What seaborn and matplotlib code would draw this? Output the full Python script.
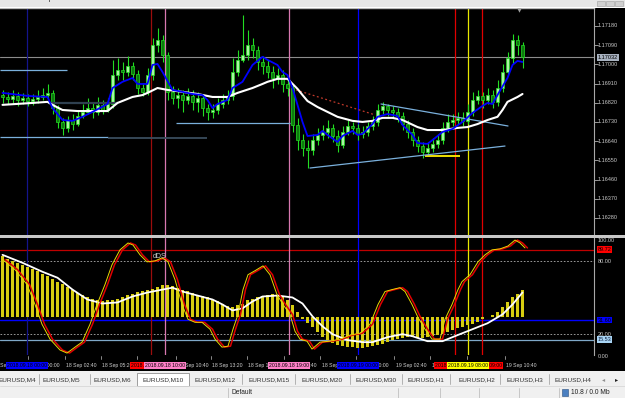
import matplotlib
matplotlib.use("Agg")
import matplotlib.pyplot as plt
import matplotlib.transforms as mtrans
from matplotlib.patches import Rectangle
import numpy as np
import seaborn as sns

# ---------------- data ----------------
first_open = 1.16856
close = [1.16847, 1.16838, 1.16852, 1.16833, 1.16842, 1.16828, 1.16838, 1.16847, 1.16856, 1.16866,
         1.16795, 1.16730, 1.16702, 1.16739, 1.16720, 1.16758, 1.16777, 1.16795, 1.16777, 1.16810,
         1.16786, 1.16814, 1.16950, 1.16974, 1.16964, 1.16992, 1.16955, 1.16889, 1.16871, 1.16950,
         1.17091, 1.17114, 1.17044, 1.16871, 1.16842, 1.16856, 1.16833, 1.16852, 1.16824, 1.16842,
         1.16795, 1.16777, 1.16786, 1.16814, 1.16833, 1.16852, 1.16964, 1.17021, 1.17044, 1.17091,
         1.17067, 1.17011, 1.16992, 1.16964, 1.16936, 1.16950, 1.16908, 1.16889, 1.16716, 1.16645,
         1.16608, 1.16598, 1.16645, 1.16669, 1.16683, 1.16702, 1.16664, 1.16622, 1.16683, 1.16711,
         1.16702, 1.16674, 1.16683, 1.16711, 1.16730, 1.16786, 1.16805, 1.16786, 1.16777, 1.16758,
         1.16720, 1.16683, 1.16645, 1.16617, 1.16589, 1.16608, 1.16627, 1.16645, 1.16702, 1.16730,
         1.16739, 1.16749, 1.16735, 1.16777, 1.16833, 1.16852, 1.16833, 1.16856, 1.16824, 1.16889,
         1.16964, 1.17030, 1.17114, 1.17091, 1.17032]
high = [1.16880, 1.16871, 1.16880, 1.16871, 1.16866, 1.16861, 1.16861, 1.16880, 1.16889, 1.16908,
        1.16880, 1.16810, 1.16749, 1.16758, 1.16767, 1.16786, 1.16814, 1.16842, 1.16824, 1.16847,
        1.16833, 1.16842, 1.17021, 1.17030, 1.17011, 1.17039, 1.17011, 1.16974, 1.16908, 1.16983,
        1.17124, 1.17171, 1.17138, 1.17058, 1.16899, 1.16889, 1.16880, 1.16889, 1.16880, 1.16871,
        1.16861, 1.16814, 1.16814, 1.16842, 1.16861, 1.16880, 1.17030, 1.17067, 1.17232, 1.17161,
        1.17124, 1.17086, 1.17039, 1.17021, 1.16992, 1.16983, 1.16974, 1.16936, 1.16908, 1.16749,
        1.16674, 1.16645, 1.16674, 1.16702, 1.16716, 1.16739, 1.16720, 1.16692, 1.16711, 1.16739,
        1.16730, 1.16720, 1.16711, 1.16730, 1.16758, 1.16814, 1.16824, 1.16814, 1.16805, 1.16795,
        1.16777, 1.16739, 1.16702, 1.16664, 1.16636, 1.16636, 1.16655, 1.16674, 1.16730, 1.16767,
        1.16767, 1.16777, 1.16777, 1.16814, 1.16871, 1.16880, 1.16871, 1.16889, 1.16880, 1.16927,
        1.17002, 1.17058, 1.17143, 1.17138, 1.17105]
low = [1.16819, 1.16814, 1.16819, 1.16805, 1.16814, 1.16805, 1.16810, 1.16819, 1.16833, 1.16842,
       1.16767, 1.16702, 1.16669, 1.16683, 1.16692, 1.16711, 1.16749, 1.16767, 1.16749, 1.16763,
       1.16767, 1.16777, 1.16795, 1.16927, 1.16927, 1.16946, 1.16927, 1.16861, 1.16852, 1.16856,
       1.16927, 1.17058, 1.17011, 1.16833, 1.16814, 1.16795, 1.16777, 1.16814, 1.16786, 1.16777,
       1.16758, 1.16739, 1.16749, 1.16767, 1.16795, 1.16814, 1.16833, 1.16946, 1.17011, 1.17021,
       1.17030, 1.16974, 1.16955, 1.16936, 1.16889, 1.16908, 1.16871, 1.16852, 1.16683, 1.16598,
       1.16570, 1.16514, 1.16575, 1.16622, 1.16645, 1.16655, 1.16636, 1.16589, 1.16608, 1.16669,
       1.16674, 1.16645, 1.16655, 1.16664, 1.16692, 1.16711, 1.16767, 1.16758, 1.16749, 1.16730,
       1.16692, 1.16655, 1.16617, 1.16589, 1.16561, 1.16580, 1.16589, 1.16608, 1.16627, 1.16683,
       1.16711, 1.16720, 1.16711, 1.16720, 1.16758, 1.16814, 1.16795, 1.16814, 1.16795, 1.16805,
       1.16871, 1.16946, 1.17002, 1.17044, 1.16983]

fast_idx = [0, 5, 9, 10, 12, 14, 16, 18, 21, 22, 24, 26, 27, 29, 30, 31, 32, 34, 36, 38,
            40, 41, 42, 43, 45, 46, 48, 50, 52, 53, 55, 56, 57, 58, 59, 60, 61, 63, 64, 65,
            67, 68, 70, 71, 72, 74, 75, 77, 79, 80, 82, 83, 85, 86, 88, 90, 92, 94, 96, 97,
            98, 99, 101, 102, 103, 104]
fast_ma = [1.16866, 1.16852, 1.16847, 1.16795, 1.16739, 1.16735, 1.16754, 1.16777, 1.16814, 1.16889,
           1.16918, 1.16936, 1.16908, 1.16908, 1.16997, 1.17002, 1.16964, 1.16880, 1.16871, 1.16861,
           1.16856, 1.16833, 1.16795, 1.16814, 1.16833, 1.16889, 1.16918, 1.16997, 1.17035, 1.17021,
           1.16997, 1.16964, 1.16950, 1.16889, 1.16810, 1.16730, 1.16664, 1.16669, 1.16688, 1.16669,
           1.16636, 1.16664, 1.16688, 1.16669, 1.16674, 1.16720, 1.16754, 1.16767, 1.16758, 1.16716,
           1.16669, 1.16631, 1.16627, 1.16645, 1.16683, 1.16697, 1.16730, 1.16772, 1.16805, 1.16819,
           1.16814, 1.16856, 1.16936, 1.16997, 1.17016, 1.17011]
slow_idx = [0, 6, 9, 10, 12, 15, 18, 21, 23, 26, 28, 29, 31, 33, 36, 39, 42, 45, 47, 50,
            52, 53, 55, 57, 59, 60, 61, 63, 65, 67, 70, 72, 74, 76, 78, 80, 83, 85, 88, 91,
            93, 95, 97, 99, 100, 101, 103, 104]
slow_ma = [1.16810, 1.16819, 1.16824, 1.16810, 1.16786, 1.16781, 1.16781, 1.16781, 1.16819, 1.16847,
           1.16856, 1.16866, 1.16889, 1.16880, 1.16871, 1.16861, 1.16847, 1.16847, 1.16866, 1.16889,
           1.16908, 1.16918, 1.16932, 1.16932, 1.16885, 1.16856, 1.16828, 1.16800, 1.16777, 1.16754,
           1.16735, 1.16730, 1.16735, 1.16749, 1.16749, 1.16739, 1.16706, 1.16692, 1.16692, 1.16702,
           1.16706, 1.16720, 1.16739, 1.16754, 1.16786, 1.16824, 1.16847, 1.16861]

hist_base = 33.9
hist = [84.6, 82.2, 80.5, 78.9, 77.3, 75.6, 74.0, 72.4, 69.9, 68.3,
        65.8, 63.4, 61.7, 59.3, 56.8, 54.4, 52.7, 51.1, 49.4, 48.6,
        47.0, 47.8, 48.6, 49.4, 51.1, 52.7, 53.5, 55.2, 56.0, 56.8,
        57.6, 59.3, 60.9, 60.9, 60.1, 58.4, 56.8, 56.0, 54.4, 52.7,
        51.9, 50.3, 48.6, 47.0, 45.3, 42.9, 42.1, 43.7, 45.3, 47.8,
        49.4, 51.1, 51.9, 52.7, 53.5, 52.7, 51.9, 48.6, 43.7, 38.0,
        32.3, 29.0, 25.7, 21.6, 17.5, 15.1, 12.6, 11.0, 10.1, 9.3,
        9.3, 8.5, 8.5, 9.3, 10.1, 11.0, 11.8, 13.4, 15.1, 15.9,
        16.7, 17.5, 17.5, 16.7, 16.7, 17.5, 18.3, 19.2, 20.0, 21.6,
        23.2, 24.9, 25.7, 27.3, 28.2, 29.8, 32.3, 33.9, 35.5, 38.0,
        42.1, 46.2, 50.3, 53.5, 56.8]
osc_idx = [0, 2.5, 4.9, 6.5, 7.9, 9.5, 11.5, 12.9, 14.5, 15.9,
           17.5, 18.9, 20.5, 21.9, 23.5, 25.1, 26.1, 27.5, 28.9, 30.5,
           31.9, 33.1, 34.5, 35.9, 37.1, 38.5, 39.9, 41.5, 42.5, 43.9,
           45.1, 46.1, 47.1, 48.1, 49.1, 50.5, 52.1, 53.5, 54.9, 56.1,
           57.5, 58.5, 59.5, 60.9, 61.9, 63.5, 65.5, 67.5, 69.5, 71.5,
           73.5, 75.1, 76.5, 77.9, 79.5, 80.5, 81.9, 83.1, 84.5, 85.9,
           87.5, 88.5, 89.9, 91.1, 91.9, 93.5, 95.1, 96.5, 97.9, 99.5,
           101.1, 102.5, 103.5, 104.5]
osc = [81.6, 73.3, 61.0, 44.5, 28.2, 15.9, 6.9, 4.4, 9.3, 13.4,
       28.2, 44.5, 61.0, 77.3, 89.6, 95.3, 93.6, 85.5, 79.7, 80.5,
       83.0, 79.7, 65.0, 44.5, 32.3, 29.8, 29.8, 24.1, 15.9, 9.3,
       10.1, 24.1, 36.3, 56.8, 69.1, 72.4, 76.4, 69.1, 52.7, 44.5,
       36.3, 22.4, 15.9, 14.2, 7.7, 13.4, 14.2, 15.9, 19.2, 20.8,
       28.2, 44.5, 55.2, 56.8, 58.4, 55.2, 44.5, 33.9, 24.1, 15.9,
       15.9, 32.3, 44.5, 56.8, 63.4, 69.1, 79.7, 85.5, 89.6, 90.4,
       92.8, 97.7, 95.3, 91.2]
sig_idx = [0, 4, 8, 11, 14, 17, 20, 23, 26, 29, 32, 34, 36, 39, 42, 44, 46, 48, 50, 52,
           55, 58, 60, 62, 64, 66, 69, 72, 74, 77, 80, 82, 85, 88, 91, 94, 97, 100, 102, 104]
sig = [85.5, 78.9, 71.5, 66.6, 56.8, 48.6, 45.3, 46.2, 51.1, 54.4, 56.8, 58.4, 55.2, 51.9, 48.6,
       44.5, 39.6, 41.3, 47.0, 51.1, 51.9, 50.3, 45.3, 34.7, 26.5, 20.0, 15.1, 13.4, 13.4, 17.5,
       20.0, 18.3, 14.2, 14.2, 19.2, 24.1, 29.0, 36.3, 44.5, 54.4]

price_ticks = [1.17180, 1.17090, 1.17000, 1.16910, 1.16820, 1.16730, 1.16640,
               1.16550, 1.16460, 1.16370, 1.16280]
current_price = 1.17032
osc_levels = [100, 80, 20, 0]
osc_marks = [89.72, 31.60, 15.53]

# objects drawn on the chart (time in bar units, price)
vline_times = [4.9, 29.7, 32.5, 57.3, 71.1, 90.5, 95.9, 93.1]
vline_labels = ["2018.09.18 00:00", "2018.09.18 09:00", "2018.09.18 10:00", "2018.09.18 19:00",
                "2018.09.19 00:00", "2018.09.19 07:00", "2018.09.19 09:00", "2018.09.19 08:00"]
level_prices = [1.16974, 1.16819, 1.16660, 1.16655, 1.16725, 1.16572]
level_from = [-0.5, 9.1, -0.5, 21.1, 34.7, 84.5]
level_to = [12.9, 23.1, 21.1, 40.9, 57.5, 91.5]
trend_times = [[61.5, 100.5], [75.7, 101.1], [58.7, 74.5]]
trend_prices = [[1.16514, 1.16617], [1.16814, 1.16711], [1.16880, 1.16763]]
time_ticks = [-2.3, 5.1, 12.5, 19.7, 26.9, 34.7, 41.7, 48.9, 56.3, 63.5, 70.7, 78.3, 85.5, 92.9, 100.5]
time_labels = ["17 Sep 21:20", "18 Sep 00:00", "18 Sep 02:40", "18 Sep 05:20", "18 Sep 08:00",
               "18 Sep 10:40", "18 Sep 13:20", "18 Sep 16:00", "18 Sep 18:40", "18 Sep 21:20",
               "19 Sep 00:00", "19 Sep 02:40", "19 Sep 05:20", "19 Sep 08:00", "19 Sep 10:40"]
tab_labels = ["EURUSD,M4", "EURUSD,M5", "EURUSD,M6", "EURUSD,M10", "EURUSD,M12", "EURUSD,M15",
              "EURUSD,M20", "EURUSD,M30", "EURUSD,H1", "EURUSD,H2", "EURUSD,H3", "EURUSD,H4"]

# ---------------- style ----------------
sns.set_style("dark", {"axes.facecolor": "black", "figure.facecolor": "black"})
plt.rcParams['font.family'] = ['Liberation Sans', 'DejaVu Sans']

W, H = 625, 398
fig = plt.figure(figsize=(W / 100, H / 100), dpi=100)
fig.patch.set_facecolor("black")

def fx(px):
    return px / W

def fy(py):
    return 1 - py / H

ax = fig.add_axes([0, fy(235), fx(594), (235 - 8) / H])
ax2 = fig.add_axes([0, fy(355), fx(594), (355 - 238) / H])
chrome = fig.add_axes([0, 0, 1, 1], zorder=10)
chrome.set_xlim(0, W)
chrome.set_ylim(H, 0)
chrome.axis("off")
chrome.patch.set_alpha(0)

XMIN, XMAX = -0.5, 118.3
for a in (ax, ax2):
    a.set_facecolor("black")
    a.set_xlim(XMIN, XMAX)
    a.set_xticks([])
    a.set_yticks([])
    for s in a.spines.values():
        s.set_visible(False)
    a.spines["right"].set_visible(True)
    a.spines["right"].set_color("#a8a8a8")
    a.spines["right"].set_linewidth(0.8)
ax.spines["top"].set_visible(True)
ax.spines["top"].set_color("#b8b8b8")
ax.spines["top"].set_linewidth(1.0)

ax.set_ylim(1.16200, 1.17264)
LO, HI = 2.8, 99.4
ax2.set_ylim(LO, HI)

# ---------------- main chart ----------------
idx = np.arange(len(close))
opens = np.array([first_open] + close[:-1])
closes = np.array(close)
up = closes >= opens
wick = "#22dd22"
ax.vlines(idx, low, high, color=wick, lw=0.8, zorder=3)
body_h = np.where(np.abs(closes - opens) < 0.00003, 0.00003, closes - opens)
ax.bar(idx[up], body_h[up], bottom=opens[up], width=0.7, color="#a8f5a0",
       edgecolor=wick, linewidth=0.5, zorder=4)
ax.bar(idx[~up], body_h[~up], bottom=opens[~up], width=0.7, color="#0e7a0e",
       edgecolor=wick, linewidth=0.5, zorder=4)

sns.lineplot(x=slow_idx, y=slow_ma, ax=ax, color="white", linewidth=1.5, zorder=6)
sns.lineplot(x=fast_idx, y=fast_ma, ax=ax, color="#0000ff", linewidth=1.3, zorder=7)

# current price line
ax.axhline(current_price, color="#8c8c8c", lw=0.8, zorder=2)

# horizontal level segments
level_colors = ["#7ab0dc", "#2f4050", "#7ab0dc", "#3a4d5e", "#7ab0dc", "#f0e000"]
level_widths = [0.9, 1.6, 0.9, 1.3, 0.9, 1.4]
for p, a0, a1, c, w in zip(level_prices, level_from, level_to, level_colors, level_widths):
    ax.plot([a0, a1], [p, p], color=c, lw=w, zorder=5, solid_capstyle="butt")
trend_styles = [("#7ab0dc", "-", 0.9), ("#7ab0dc", "-", 0.9), ("#c0392b", (0, (1.5, 2)), 0.9)]
for tt, pp, (c, ls, w) in zip(trend_times, trend_prices, trend_styles):
    ax.plot(tt, pp, color=c, ls=ls, lw=w, zorder=5)

# vertical lines
vcolors = ["#14148c", "#9b0d0d", "#d878b0", "#d878b0", "#0000ff", "#e00000", "#e00000", "#e8e800"]
vbox = ["#0000ff", "#ff0000", "#ff80c8", "#ff80c8", "#0000ff", "#ff0000", "#ff0000", "#ffff00"]
for t, c in zip(vline_times, vcolors):
    ax.axvline(t, color=c, lw=0.9, zorder=2.5)
    ax2.axvline(t, color=c, lw=0.9, zorder=2.5)

# price axis labels
ytr = ax.get_yaxis_transform()
for p in price_ticks:
    ax.plot([1.0, 1.006], [p, p], transform=ytr, color="#b0b0b0", lw=0.6, clip_on=False)
    ax.text(1.006, p, f"{p:.5f}", transform=ytr, fontsize=4.0, color="#c8c8c8",
            va="center", ha="left", clip_on=False)
ax.text(1.006, current_price, f"{current_price:.5f}", transform=ytr, fontsize=4.0, color="black",
        va="center", ha="left", clip_on=False,
        bbox=dict(boxstyle="square,pad=0.15", fc="#a8b2c0", ec="none"))

# ---------------- oscillator panel ----------------
hv = np.array(hist) - hist_base
ax2.bar(idx, hv, bottom=hist_base, width=0.45, color="#d6cc10", linewidth=0, zorder=3)
ax2.axhline(osc_marks[0], color="#c00000", lw=0.9, zorder=2)
ax2.axhline(osc_marks[1], color="#0000ff", lw=1.0, zorder=2)
ax2.axhline(osc_marks[2], color="#7fa8c8", lw=0.9, zorder=2)
for lv in (80, 20):
    ax2.axhline(lv, color="#b0b0b0", lw=0.6, ls=(0, (2, 2)), zorder=2)
sns.lineplot(x=sig_idx, y=sig, ax=ax2, color="white", linewidth=1.3, zorder=5)
sns.lineplot(x=np.array(osc_idx) + 0.5, y=osc, ax=ax2, color="#e00000", linewidth=1.1, zorder=6)
sns.lineplot(x=osc_idx, y=osc, ax=ax2, color="#e8d800", linewidth=0.7, zorder=7)
ax2.text(31.5, 83.8, "dDS", fontsize=5, color="#c8c8c8", ha="center", va="center", zorder=8)
for a in (ax, ax2):
    a.set_xlabel("")
    a.set_ylabel("")

ytr2 = ax2.get_yaxis_transform()
for lv in osc_levels:
    yy = min(max(lv, LO - 1.5), HI - 1.8)
    ax2.text(1.006, yy, f"{lv:.2f}", transform=ytr2, fontsize=4.0, color="#c8c8c8",
             va="center", ha="left", clip_on=False)
mark_styles = [("#ff0000", "black"), ("#0000ff", "black"), ("#a8d4f4", "#102040")]
for m, (bg, fg) in zip(osc_marks, mark_styles):
    ax2.text(1.006, m, f"{m:.2f}", transform=ytr2, fontsize=4.0, color=fg,
             va="center", ha="left", clip_on=False,
             bbox=dict(boxstyle="square,pad=0.15", fc=bg, ec="none"))

# ---------------- time axis ----------------
ttr = mtrans.blended_transform_factory(ax2.transData, chrome.transData)
for t, lab in zip(time_ticks, time_labels):
    chrome.plot([t, t], [356, 359], transform=ttr, color="#a0a0a0", lw=0.6, clip_on=False)
    chrome.text(t + 0.3, 365.5, lab, transform=ttr, fontsize=3.7, color="#d0d0d0",
                ha="left", va="center", clip_on=False)
for k, (t, lab, bc) in enumerate(zip(vline_times, vline_labels, vbox)):
    chrome.text(t, 365.5, lab, transform=ttr, fontsize=3.7, color="black", ha="center",
                va="center", clip_on=False, zorder=20 + k,
                bbox=dict(boxstyle="square,pad=0.2", fc=bc, ec="none"))

# ---------------- window chrome ----------------
chrome.add_patch(Rectangle((0, 0), W, 6.5, fc="#e6e6e6", ec="none"))
chrome.add_patch(Rectangle((0, 6.5), W, 1.0, fc="#ffffff", ec="none"))
chrome.text(2, -1.2, "Window", fontsize=5, color="#222222", va="center", ha="left")
chrome.text(38, -1.2, "Help", fontsize=5, color="#222222", va="center", ha="left")
for bx in (597, 606, 615):
    chrome.add_patch(Rectangle((bx, 0.5), 8, 5, fc="#d0d0d0", ec="#a0a0a0", lw=0.4))
chrome.plot([519], [9.5], marker="v", color="#a0a0a0", ms=3.2, mew=0)
chrome.add_patch(Rectangle((0, 235.2), W, 2.6, fc="#c8c8c8", ec="none"))

chrome.add_patch(Rectangle((0, 371), W, 15, fc="#f0f0f0", ec="none"))
chrome.add_patch(Rectangle((0, 386), W, 12, fc="#f0f0f0", ec="none"))
chrome.plot([0, W], [386, 386], color="#d8d8d8", lw=0.6)
chrome.add_patch(Rectangle((137, 372.5), 52, 13, fc="white", ec="#909090", lw=0.6))
tab_centers = [17, 61, 112, 163, 215, 269, 322, 376, 426, 477, 525, 573]
for cx, lab in zip(tab_centers, tab_labels):
    chrome.text(cx, 379.5, lab, fontsize=4.6, color="#303030", ha="center", va="center")
for sx in (39, 90, 242, 295, 350, 402, 450, 500, 549):
    chrome.plot([sx, sx], [374, 384], color="#a8a8a8", lw=0.6)
chrome.text(604, 379.5, "\u25c2", fontsize=4.5, color="#909090", ha="center", va="center")
chrome.text(617, 379.5, "\u25b8", fontsize=4.5, color="#202020", ha="center", va="center")
for sx in (228, 398, 440, 479, 519, 559):
    chrome.plot([sx, sx], [387.5, 397.5], color="#c0c0c0", lw=0.6)
chrome.text(232, 392, "Default", fontsize=4.8, color="#202020", ha="left", va="center")
chrome.add_patch(Rectangle((562, 388.5), 6, 7, fc="#4a7fc0", ec="#2a4f80", lw=0.4))
chrome.text(571, 392, "10.8 / 0.0 Mb", fontsize=4.8, color="#202020", ha="left", va="center")

fig.savefig("out.png", dpi=100, facecolor="black")
